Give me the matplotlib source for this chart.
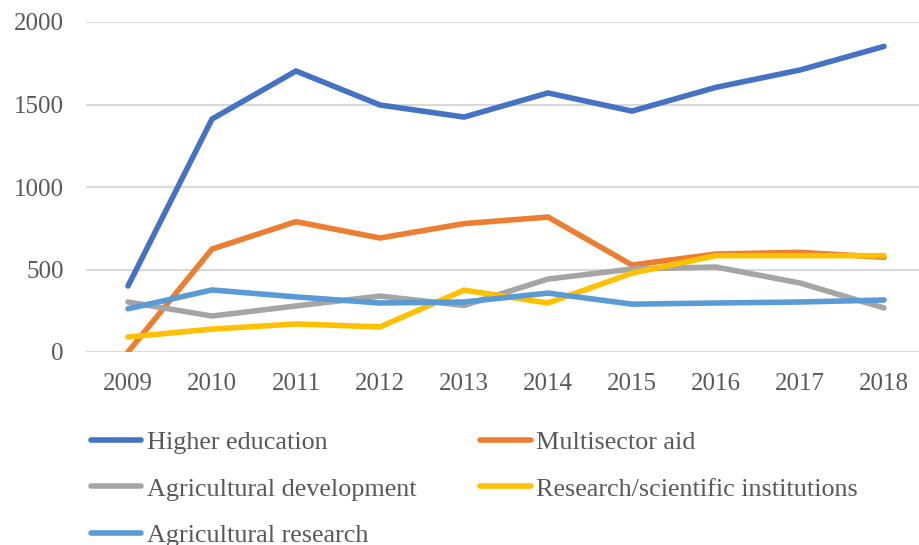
import numpy as np
import matplotlib
matplotlib.use("Agg")
import matplotlib.pyplot as plt

# data
years = ["2009", "2010", "2011", "2012", "2013", "2014", "2015", "2016", "2017", "2018"]
higher_education = [400, 1412, 1703, 1497, 1424, 1570, 1460, 1604, 1709, 1852]
multisector_aid = [0, 624, 790, 691, 778, 818, 527, 594, 604, 574]
agri_development = [303, 218, 279, 339, 282, 442, 503, 515, 418, 267]
research_institutions = [91, 139, 170, 152, 375, 297, 478, 584, 584, 584]
agri_research = [262, 376, 334, 297, 303, 357, 290, 297, 303, 315]

series = [
    ("Higher education", higher_education, "#4472C4"),
    ("Multisector aid", multisector_aid, "#ED7D31"),
    ("Agricultural development", agri_development, "#A5A5A5"),
    ("Research/scientific institutions", research_institutions, "#FFC000"),
    ("Agricultural research", agri_research, "#5B9BD5"),
]

plt.rcParams['font.family'] = ['Liberation Serif', 'DejaVu Serif']
text_col = "#595959"

fig = plt.figure(figsize=(9.19, 5.45), dpi=100)
ax = fig.add_axes([86 / 919, 1 - 352 / 545, 840 / 919, 330 / 545])

x = np.arange(len(years))
lines = {}
for name, vals, col in series:
    ln, = ax.plot(x, vals, color=col, lw=4, solid_capstyle='round',
                  solid_joinstyle='miter', label=name)
    lines[name] = ln

ax.set_xlim(-0.5, len(years) - 0.5)
ax.set_ylim(0, 2000)
ax.set_yticks([0, 500, 1000, 1500, 2000])
ax.set_xticks(x)
ax.set_xticklabels(years)
ax.grid(axis='y', color="#D9D9D9", lw=1.5)
ax.set_axisbelow(True)
for s in ax.spines.values():
    s.set_visible(False)
ax.tick_params(axis='both', length=0, labelsize=18, colors=text_col)
ax.tick_params(axis='x', pad=15)
ax.tick_params(axis='y', pad=16)

# legend ordered so it reads row by row like the reference
order = ["Higher education", "Agricultural development", "Agricultural research",
         "Multisector aid", "Research/scientific institutions"]
leg = fig.legend([lines[n] for n in order], order, ncol=2,
                 loc='upper left', bbox_to_anchor=(67 / 919, 1 - 407 / 545),
                 frameon=False, fontsize=18.8, handlelength=1.95,
                 handletextpad=0.2, labelspacing=0.9, columnspacing=2.45)
for t in leg.get_texts():
    t.set_color(text_col)

fig.savefig("out.png", dpi=100)
